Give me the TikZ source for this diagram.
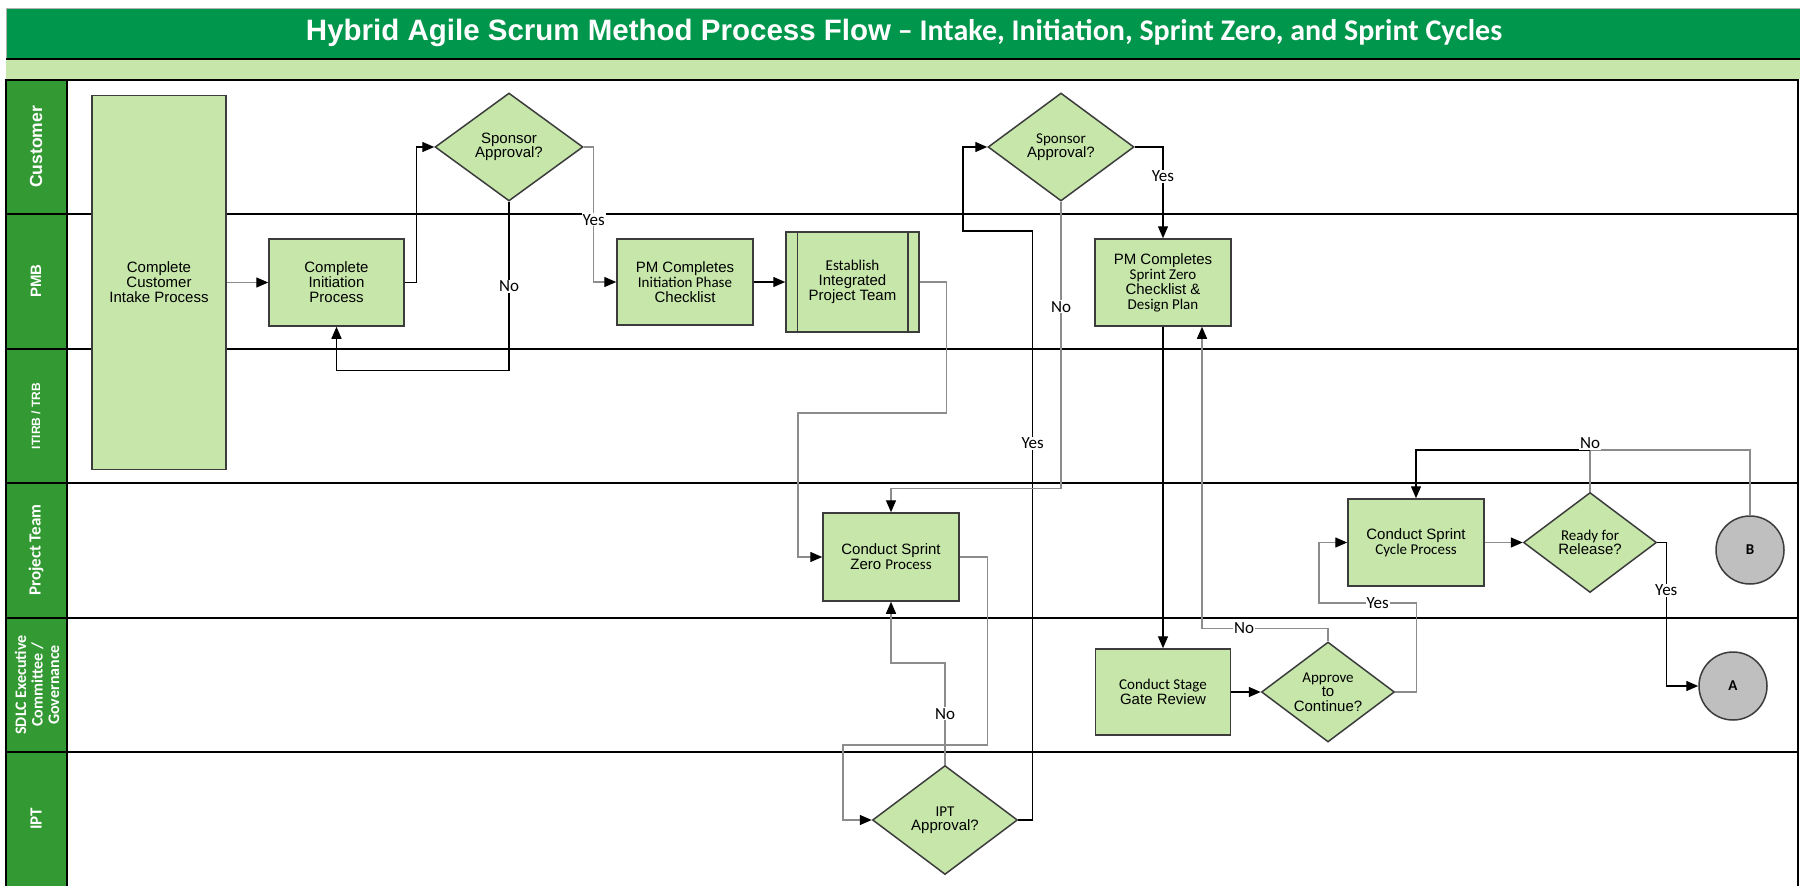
\documentclass[tikz,border=0pt]{standalone}
\usepackage{fontspec}
\setmainfont{Liberation Sans}
\newfontfamily\cfont{Carlito}
\usetikzlibrary{shapes.geometric,arrows.meta}

\definecolor{titlegreen}{HTML}{00964B}
\definecolor{bandgreen}{HTML}{C6E6AA}
\definecolor{lanegreen}{HTML}{339933}
\definecolor{boxgreen}{HTML}{C6E6AA}
\definecolor{boxline}{HTML}{3C3C3C}
\definecolor{wiregray}{HTML}{8C8C8C}
\definecolor{termgray}{HTML}{BFBFBF}

\tikzset{
  box/.style={rectangle, draw=boxline, line width=1.5pt, fill=boxgreen, align=center,
    inner sep=0pt, font=\fontsize{15}{15}\selectfont},
  dec/.style={diamond, aspect=1.33, draw=boxline, line width=1.5pt, fill=boxgreen, align=center,
    inner sep=0pt, font=\fontsize{15}{14.5}\selectfont},
  term/.style={circle, draw=boxline, line width=1.5pt, fill=termgray, inner sep=0pt,
    minimum size=68pt, font=\cfont\bfseries\fontsize{15}{15}\selectfont},
  plain/.style={line width=1.4pt},
  wire/.style={plain, -{Triangle[length=12pt,width=10pt,color=black]}},
  blk/.style={wire, draw=black},
  gry/.style={wire, draw=wiregray},
  lbl/.style={fill=white, inner sep=1pt, font=\cfont\fontsize{17}{17}\selectfont},
  lanehead/.style={rotate=90, text=white, align=center, inner sep=0pt},
}

\begin{document}
\begin{tikzpicture}[x=1pt,y=-1pt]
\useasboundingbox (0,0) rectangle (1800,886);

% title bar and band
\fill[titlegreen] (6,8) rectangle (1800,59);
\draw[black!30, line width=1pt] (6,59) -- (6,8) -- (1800,8);
\fill[bandgreen] (6,59) rectangle (1800,79);
\draw[line width=1.5pt] (6,59) -- (1800,59);
\node[anchor=base, text=white, inner sep=0pt] (title) at (904,40)
  {{\bfseries\fontsize{29.5}{30}\selectfont Hybrid Agile Scrum Method Process Flow}{\cfont\bfseries\fontsize{30}{30}\selectfont\ – Intake, Initiation, Sprint Zero, and Sprint Cycles}};

% swimlanes
\fill[lanegreen] (6,80) rectangle (67,890);
\fill[white] (67,80) rectangle (1798,890);
\foreach \yy in {214,349,483,618,752}
  \draw[line width=1.8pt] (6,\yy) -- (1798,\yy);
\draw[line width=2pt] (6,890) -- (6,80) -- (1798,80) -- (1798,890);
\draw[line width=2.5pt] (67,80) -- (67,890);

\node[lanehead, font=\bfseries\fontsize{17.5}{17.5}\selectfont] (lcust) at (36,147) {Customer};
\node[lanehead, font=\bfseries\fontsize{15}{15}\selectfont] (lpmb) at (36,281) {PMB};
\node[lanehead, font=\bfseries\fontsize{12}{12}\selectfont] (litirb) at (36,416) {ITIRB / TRB};
\node[lanehead, font=\cfont\bfseries\fontsize{17}{17}\selectfont] (lteam) at (36,550) {Project Team};
\node[lanehead, font=\cfont\bfseries\fontsize{16}{16.5}\selectfont] (lsdlc) at (37,685) {SDLC Executive\\Committee /\\Governance};
\node[lanehead, font=\cfont\bfseries\fontsize{17}{17}\selectfont] (lipt) at (36,819) {IPT};

% process steps and decisions
\node[box, minimum width=134pt, minimum height=374pt] (intake) at (159,282.5) {Complete\\Customer\\Intake Process};
\node[box, minimum width=135pt, minimum height=87pt] (init) at (336.5,282.5) {Complete\\Initiation\\Process};
\node[dec, minimum width=148pt, minimum height=108pt] (sp1) at (509,147) {Sponsor\\Approval?};
\node[box, minimum width=136pt, minimum height=86pt] (pmi) at (685,282) {PM Completes\\{\cfont Initiation Phase}\\Checklist};
\node[box, minimum width=133pt, minimum height=100pt] (eipt) at (852.5,282) {{\cfont Establish}\\Integrated\\Project Team};
\draw[boxline, line width=1.5pt] ([xshift=12pt]eipt.north west) -- ([xshift=12pt]eipt.south west);
\draw[boxline, line width=1.5pt] ([xshift=-12pt]eipt.north east) -- ([xshift=-12pt]eipt.south east);
\node[dec, minimum width=146pt, minimum height=108pt] (sp2) at (1061,147) {\cfont Sponsor\\Approval?};
\node[box, minimum width=136pt, minimum height=87pt] (pmsz) at (1163,282.5) {PM Completes\\{\cfont Sprint Zero}\\Checklist \&\\{\cfont Design Plan}};
\node[box, minimum width=136pt, minimum height=88pt] (csz) at (891,557) {Conduct Sprint\\Zero {\cfont Process}};
\node[dec, minimum width=145pt, minimum height=109pt] (ipt) at (945,820) {{\cfont IPT}\\Approval?};
\node[box, minimum width=135pt, minimum height=86pt] (sg) at (1163,692) {\cfont Conduct Stage\\Gate Review};
\node[dec, minimum width=133pt, minimum height=100pt] (atc) at (1328,692) {\cfont Approve\\to\\Continue?};
\node[box, minimum width=136pt, minimum height=87pt] (csc) at (1416,542.5) {Conduct Sprint\\{\cfont Cycle Process}};
\node[dec, minimum width=133pt, minimum height=100pt] (rfr) at (1590,542.5) {\cfont Ready for\\Release?};
\node[term] (B) at (1750,550) {B};
\node[term] (A) at (1733,686) {A};

% connectors
\draw[gry] (intake.east) -- (init.west);
\draw[blk] (init.east) -- ++(12,0) |- (sp1.west);
\draw[blk] (sp1.south) -- node[lbl]{No} ++(0,169) -| (init.south);
\draw[gry] (sp1.east) -- ++(10,0) |- node[lbl,pos=0.27]{Yes} (pmi.west);
\draw[blk] (pmi.east) -- (eipt.west);
\draw[gry] (eipt.east) -- ++(27,0) |- (798,413) |- (csz.west);
\draw[gry] (csz.east) -- ++(28,0) |- (843,745) |- (ipt.west);
\draw[gry] (ipt.north) -- node[lbl]{No} (945,663) -| (csz.south);
\draw[blk] (ipt.east) -- ++(14.5,0) -- node[lbl,pos=0.64]{Yes} ++(0,-589) -| (963,147) -- (sp2.west);
\draw[gry] (sp2.south) -- node[lbl,pos=0.366]{No} ++(0,287) -| (csz.north);
\draw[blk] (sp2.east) -| node[lbl,pos=0.66]{Yes} (pmsz.north);
\draw[blk] (pmsz.south) -- (sg.north);
\draw[blk] (sg.east) -- (atc.west);
\draw[gry] (atc.north) -- ++(0,-13) -| node[lbl,pos=0.333]{No} ([xshift=39pt]pmsz.south);
\draw[gry] (atc.east) -- ++(21,0) |- node[lbl,pos=0.698]{Yes} (1319,603) |- (csc.west);
\draw[gry] (csc.east) -- (rfr.west);
\coordinate (jn) at (1590,450);
\draw[plain, draw=wiregray] (rfr.north) -- (jn);
\draw[plain, draw=wiregray] (B.north) |- (jn);
\draw[blk] (jn) -| (csc.north);
\node[lbl, above=0pt] (nolbl) at (jn) {No};
\draw[blk] (rfr.east) -- ++(9,0) |- node[lbl,pos=0.167]{Yes} (A.west);
\end{tikzpicture}
\end{document}
